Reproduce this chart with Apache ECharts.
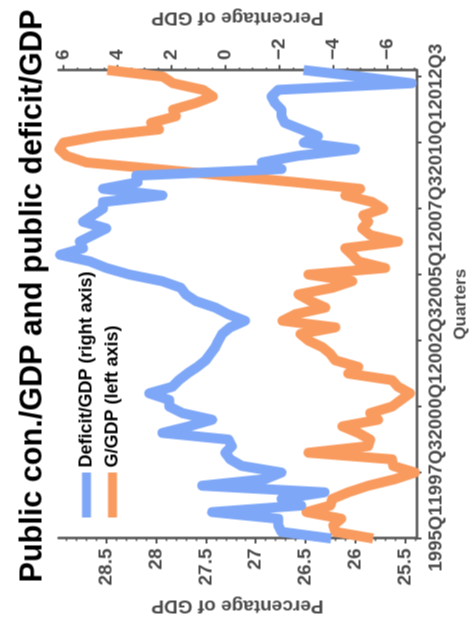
<!DOCTYPE html>
<html>
<head>
<meta charset="utf-8">
<script src="https://cdn.jsdelivr.net/npm/echarts@6/dist/echarts.min.js"></script>
<style>
html,body{margin:0;padding:0;width:474px;height:623px;overflow:hidden;background:#fff;}
#chart{position:absolute;left:-74.5px;top:74.5px;width:623px;height:474px;transform:rotate(-90deg);}
</style>
</head>
<body>
<div id="chart"></div>
<script>
// quarters 1995Q1 .. 2012Q4
const quarters = [];
for (let y = 1995; y <= 2012; y++) for (let q = 1; q <= 4; q++) quarters.push(y + 'Q' + q);

const gGdp = [25.82,26.2,26.22,26.14,26.49,26.25,26.23,26.07,25.87,25.6,
  25.4,25.62,25.63,26.47,25.87,25.85,25.97,26.13,25.77,25.85,
  25.63,25.54,25.45,25.57,25.63,26.07,25.97,26.2,26.25,26.33,
  26.47,26.55,26.2,26.73,26.6,26.3,26.45,26.57,26.23,26.03,
  26.47,25.7,25.97,26.03,26.1,25.57,25.85,25.93,25.87,25.92,
  25.72,25.83,26.1,25.95,26.6,27.3,28.0,28.7,28.9,28.97,
  28.93,28.57,27.97,28.05,27.8,27.83,27.6,27.43,27.53,27.83,
  27.93,28.49];

const deficitGdp = [-3.92,-2.08,-1.96,-1.96,0.49,-2.81,-2.08,-3.67,0.86,-1.47,
  -2.08,-0.61,-0.18,0,-0.24,-0.12,2.33,1.35,0.49,1.59,
  2.08,2.08,2.82,1.96,1.72,1.41,1.04,0.73,0.55,0.37,
  0.25,0.12,-0.18,-0.73,-0.1,0.37,1.1,1.47,1.65,2.34,
  3.55,4.41,5.02,6.12,5.27,5.39,4.9,4.41,5.27,4.9,
  4.53,4.53,2.33,4.53,3.25,3.3,-2.08,-1.35,-2.69,-4.8,
  -2.9,-3.43,-2.81,-2.2,-2.08,-2.08,-1.84,-1.71,-1.96,-6.9,
  -5.0,-2.9];

const leftTicks = [25.5,26,26.5,27,27.5,28,28.5];
const rightTicks = [-6,-4,-2,0,2,4,6];
const leftMinor = [];
for (let k = 254; k <= 289; k++) if (k % 5 !== 0) leftMinor.push(k / 10);
const rightMinor = [];
for (let k = -14; k <= 12; k++) if (k % 4 !== 0) rightMinor.push(k / 2);

const names = ['Deficit/GDP (right axis)', 'G/GDP (left axis)'];
const blue = '#7ea7f7';
const orange = '#f99b5f';
const axisColor = '#555555';
const labelColor = '#4a4a4a';
const FF = 'Liberation Sans';

const LMIN = 25.385, LMAX = 28.98, RMIN = -7.08, RMAX = 6.18;

const lbl = {fontSize: 19, fontWeight: 'bold', color: labelColor, fontFamily: FF};
const nameStyle = {fontSize: 19, fontWeight: 'bold', color: labelColor, fontFamily: FF};
const every10 = (idx) => idx % 10 === 0;

const chart = echarts.init(document.getElementById('chart'), null, {renderer: 'canvas'});
chart.setOption({
  animation: false,
  backgroundColor: '#fff',
  title: {
    text: 'Public con./GDP and public deficit/GDP',
    left: 36, top: 12,
    textStyle: {fontSize: 30.6, fontWeight: 'bold', color: '#000', fontFamily: FF}
  },
  legend: {
    data: names,
    orient: 'vertical',
    left: 101, top: 72,
    icon: 'rect',
    itemWidth: 45, itemHeight: 9, itemGap: 8,
    textStyle: {fontSize: 18, fontWeight: 'bold', color: '#000', fontFamily: FF}
  },
  grid: {left: 85, right: 62, top: 58, bottom: 55, containLabel: false},
  xAxis: {
    type: 'category',
    data: quarters,
    boundaryGap: false,
    axisLine: {show: true, onZero: false, lineStyle: {color: axisColor, width: 2.5}},
    axisTick: {show: true, interval: every10, length: 5, lineStyle: {color: axisColor, width: 2}},
    axisLabel: {interval: 0, margin: 10, showMinLabel: true, showMaxLabel: true, hideOverlap: false,
      formatter: (v, idx) => (idx % 10 === 0 ? v : ''),
      fontSize: 18.5, fontWeight: 'bold', color: labelColor, fontFamily: FF},
    splitLine: {show: false},
    name: 'Quarters',
    nameLocation: 'middle',
    nameGap: 36,
    nameTextStyle: {fontSize: 17, fontWeight: 'bold', color: labelColor, fontFamily: FF}
  },
  yAxis: [
    {
      type: 'value', position: 'left', min: LMIN, max: LMAX,
      axisLine: {show: true, onZero: false, lineStyle: {color: axisColor, width: 2.5}},
      axisTick: {show: true, length: 5, customValues: leftTicks, lineStyle: {color: axisColor, width: 2}},
      axisLabel: Object.assign({margin: 10, customValues: leftTicks}, lbl),
      splitLine: {show: false},
      name: 'Percentage of GDP', nameLocation: 'middle', nameRotate: 90, nameGap: 56,
      nameTextStyle: nameStyle
    },
    {
      type: 'value', position: 'right', min: RMIN, max: RMAX,
      axisLine: {show: true, onZero: false, lineStyle: {color: axisColor, width: 2.5}},
      axisTick: {show: true, length: 5, customValues: rightTicks, lineStyle: {color: axisColor, width: 2}},
      axisLabel: Object.assign({margin: 10, customValues: rightTicks,
        formatter: v => String(v).replace('-', '\u2212')}, lbl),
      splitLine: {show: false},
      name: 'Percentage of GDP', nameLocation: 'middle', nameRotate: 90, nameGap: 35,
      nameTextStyle: nameStyle
    },
    {
      type: 'value', position: 'left', min: LMIN, max: LMAX,
      axisLine: {show: false, onZero: false},
      axisTick: {show: true, length: 2.5, customValues: leftMinor, lineStyle: {color: axisColor, width: 1.5}},
      axisLabel: {show: false},
      splitLine: {show: false}
    },
    {
      type: 'value', position: 'right', min: RMIN, max: RMAX,
      axisLine: {show: false, onZero: false},
      axisTick: {show: true, length: 2.5, customValues: rightMinor, lineStyle: {color: axisColor, width: 1.5}},
      axisLabel: {show: false},
      splitLine: {show: false}
    }
  ],
  series: [
    {
      name: names[1], type: 'line', yAxisIndex: 0, data: gGdp,
      symbol: 'none', color: orange, itemStyle: {color: orange},
      lineStyle: {color: orange, width: 10, join: 'round', cap: 'butt'}
    },
    {
      name: names[0], type: 'line', yAxisIndex: 1, data: deficitGdp,
      symbol: 'none', color: blue, itemStyle: {color: blue},
      lineStyle: {color: blue, width: 10, join: 'round', cap: 'butt'}
    }
  ]
});
</script>
</body>
</html>
